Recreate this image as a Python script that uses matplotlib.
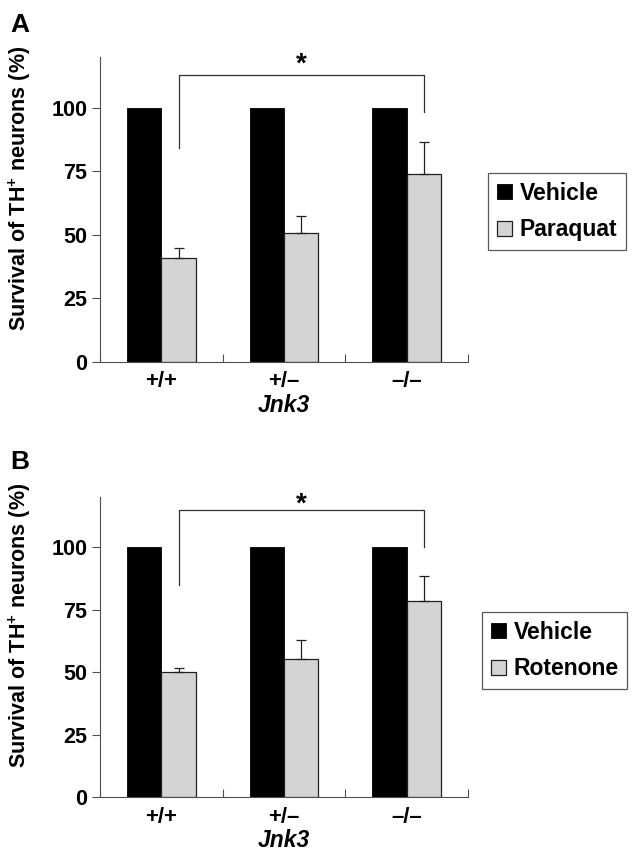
import numpy as np
import matplotlib
matplotlib.use("Agg")
import matplotlib.pyplot as plt

plt.rcParams["font.family"] = ["Liberation Sans", "DejaVu Sans"]
plt.rcParams["font.weight"] = "bold"
plt.rcParams["mathtext.fontset"] = "custom"
plt.rcParams["mathtext.rm"] = "Liberation Sans:bold"
plt.rcParams["mathtext.bf"] = "Liberation Sans:bold"

genotypes = ["+/+", "+/\u2013", "\u2013/\u2013"]

vehicle_a = [100, 100, 100]
paraquat = [41, 50.8, 74]
paraquat_err = [3.6, 6.7, 12.6]

vehicle_b = [100, 100, 100]
rotenone = [50, 55.2, 78.5]
rotenone_err = [1.6, 7.6, 9.9]

# bracket: (top, left end, right end)
bracket_a = (113, 84, 98.5)
bracket_b = (114.7, 85, 100)

gray = "#d4d4d4"
spine_col = "#505050"
w = 0.28

fig = plt.figure(figsize=(6.32, 8.55), dpi=100)


def panel(rect, vehicle, treat, treat_err, treat_name, bracket, letter, letter_y, leg_pos, ylab_y):
    ax = fig.add_axes(rect)
    x = np.arange(1, len(genotypes) + 1)
    ax.bar(x - w / 2, vehicle, w, color="black", edgecolor="black", linewidth=0.6, label="Vehicle")
    ax.bar(x + w / 2, treat, w, color=gray, edgecolor="#202020", linewidth=0.9, label=treat_name)
    ax.errorbar(x + w / 2, treat, yerr=[np.zeros(len(treat)), treat_err], fmt="none",
                ecolor="#202020", elinewidth=0.9, capsize=3.5, capthick=0.9)

    top, lb, rb = bracket
    x0, x1 = x[0] + w / 2, x[-1] + w / 2
    ax.plot([x0, x0, x1, x1], [lb, top, top, rb], color="#303030", lw=0.9, clip_on=False)
    ax.text((x0 + x1) / 2, 114.2, "*", ha="center", va="baseline", fontsize=20,
            fontweight="bold", clip_on=False)

    ax.set_xlim(0.5, 3.5)
    ax.set_ylim(0, 120)
    ax.set_yticks([0, 25, 50, 75, 100])
    ax.tick_params(axis="y", direction="out", length=6, width=0.8, color=spine_col, pad=3, labelsize=15.5)
    ax.set_xticks([0.5, 1.5, 2.5, 3.5])
    ax.set_xticklabels([])
    ax.tick_params(axis="x", which="major", direction="in", length=6, width=0.8, color=spine_col)
    ax.set_xticks(x, minor=True)
    ax.set_xticklabels(genotypes, minor=True, fontsize=16, fontweight="bold")
    ax.tick_params(axis="x", which="minor", length=0, pad=7)
    ax.set_xlabel("Jnk3", fontsize=16.5, fontweight="bold", style="italic", labelpad=1)

    for s in ["top", "right"]:
        ax.spines[s].set_visible(False)
    for s in ["left", "bottom"]:
        ax.spines[s].set_color(spine_col)
        ax.spines[s].set_linewidth(0.8)

    leg = ax.legend(loc="upper left", bbox_to_anchor=leg_pos, bbox_transform=fig.transFigure,
                    fontsize=16.5, frameon=True, fancybox=False, handlelength=0.65, handleheight=0.65,
                    handletextpad=0.35, borderpad=0.38, labelspacing=0.6, borderaxespad=0)
    leg.get_frame().set_edgecolor("#303030")
    leg.get_frame().set_linewidth(0.9)

    fig.text(20 / 632, ylab_y, "Survival of TH$^{+}$ neurons (%)", rotation=90,
             ha="center", va="center", fontsize=15.5, fontweight="bold")
    fig.text(10 / 632, letter_y, letter, ha="left", va="baseline", fontsize=19, fontweight="bold")
    return ax


panel([100 / 632, 1 - 361.7 / 855, 368 / 632, 304.7 / 855], vehicle_a, paraquat, paraquat_err,
      "Paraquat", bracket_a, "A", 1 - 32 / 855, (488 / 632, 1 - 173 / 855), 1 - 188 / 855)
panel([100 / 632, 1 - 797 / 855, 368 / 632, 300 / 855], vehicle_b, rotenone, rotenone_err,
      "Rotenone", bracket_b, "B", 1 - 469 / 855, (482 / 632, 1 - 612 / 855), 1 - 625 / 855)

fig.savefig("out.png", dpi=100)
